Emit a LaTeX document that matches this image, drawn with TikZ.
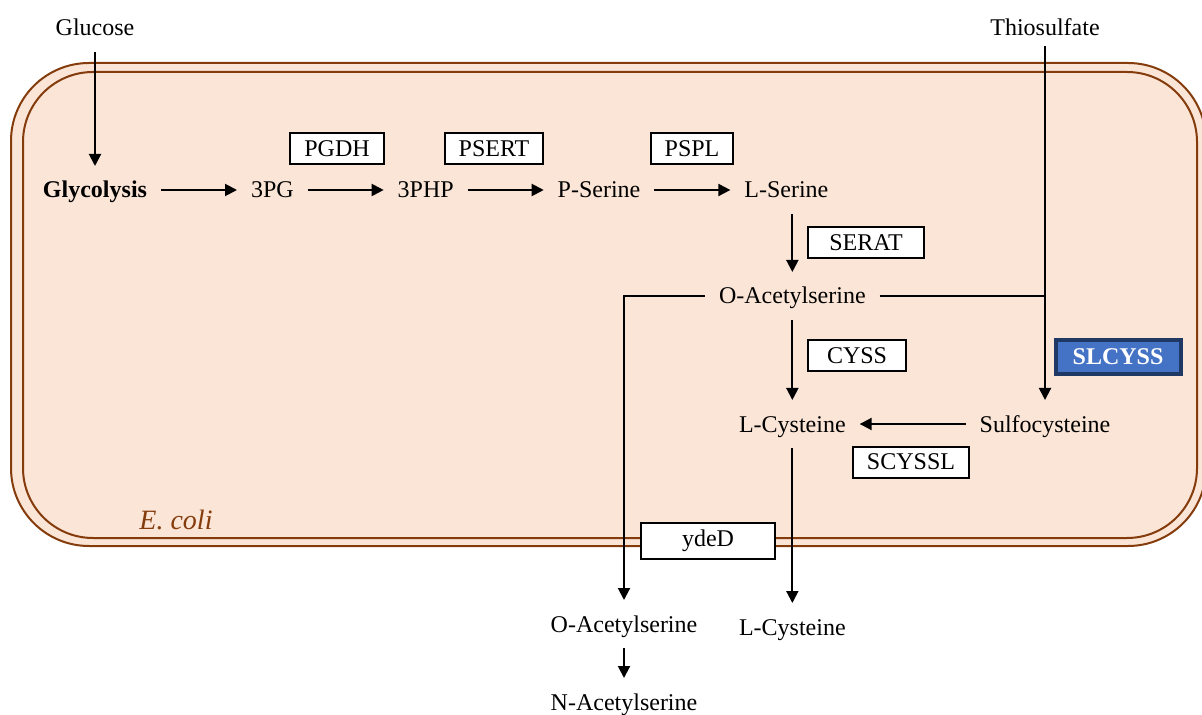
\documentclass[tikz,border=0pt]{standalone}
\usepackage{fontspec}
\setmainfont{Liberation Serif}
\usetikzlibrary{arrows.meta, positioning}
\definecolor{cellfill}{HTML}{FBE5D6}
\definecolor{cellline}{HTML}{843C0C}
\definecolor{hlfill}{HTML}{4472C4}
\definecolor{hlline}{HTML}{203864}

\begin{document}
\begin{tikzpicture}[
    x=0.5pt, y=-0.5pt,
    node distance=38pt,
    chem/.style={inner sep=2pt, outer sep=5pt, text height=9pt, text depth=1pt, font=\fontsize{12}{14}\selectfont},
    enzbox/.style={rectangle, draw, fill=white, line width=1pt, minimum height=15.5pt, inner xsep=7pt, font=\fontsize{12}{14}\selectfont},
    arrow/.style={line width=1pt, -{Triangle[length=6pt, width=6pt]}},
    link/.style={line width=1pt}
]
    \useasboundingbox (0,0) rectangle (1202,715);

    % cell envelope
    \draw [cellline, fill=cellfill, line width=1pt, rounded corners=39pt] (11,63) rectangle (1206,546);
    \draw [cellline, line width=1pt, rounded corners=35pt] (23,72) rectangle (1197,538);
    \node (ecoli) [font=\fontsize{14}{16}\selectfont\itshape, text=cellline] at (176,520) {E. coli};

    % metabolites
    \node (gly)  [chem, font=\fontsize{12}{14}\selectfont\bfseries] at (95,190) {Glycolysis};
    \node (pg)   [chem, right=of gly] {3PG};
    \node (php)  [chem, right=of pg] {3PHP};
    \node (pser) [chem, right=of php] {P-Serine};
    \node (lser) [chem, right=of pser] {L-Serine};
    \node (oas)  [chem, below=29pt of lser, xshift=3pt] {O-Acetylserine};
    \node (lcys) [chem, below=40pt of oas] {L-Cysteine};
    \node (lcysout) [chem, below=77.5pt of lcys] {L-Cysteine};
    \node (glc)  [chem, above=57pt of gly] {Glucose};
    \node (thio) [chem, outer sep=2pt] at (1045,28) {Thiosulfate};
    \node (sulfo) [chem] at (thio |- lcys) {Sulfocysteine};
    \node (oasout) [chem] at (624,624) {O-Acetylserine};
    \node (nacs) [chem, below=15pt of oasout] {N-Acetylserine};
    \coordinate (jn) at (thio |- oas);

    % reactions
    \draw [arrow] (glc) -- (gly);
    \draw [arrow] (gly) -- (pg);
    \draw [arrow] (pg) -- (php);
    \draw [arrow] (php) -- (pser);
    \draw [arrow] (pser) -- (lser);
    \draw [arrow] (lser.south -| oas) -- (oas);
    \draw [arrow] (oas) -- (lcys);
    \draw [arrow] (lcys) -- (lcysout);
    \draw [arrow] (thio) -- (sulfo);
    \draw [arrow] (sulfo) -- (lcys);
    \draw [link] (oas) -- (jn);
    \draw [arrow] (oas.west) -| (oasout);
    \draw [arrow] (oasout) -- (nacs);

    % enzymes
    \node (pgdh)   [enzbox] at (337,149) {PGDH};
    \node (psert)  [enzbox] at (494,149) {PSERT};
    \node (pspl)   [enzbox] at (692,149) {PSPL};
    \node (serat)  [enzbox, minimum width=58pt] at (866,243) {SERAT};
    \node (cyss)   [enzbox, minimum width=49pt] at (857,356) {CYSS};
    \node (scyssl) [enzbox] at (911,462) {SCYSSL};
    \node (yded)   [enzbox, minimum width=67pt] at (708,541) {ydeD};
    \node (slcyss) [enzbox, fill=hlfill, draw=hlline, line width=2pt, text=white, font=\fontsize{12}{14}\selectfont\bfseries, minimum width=62.5pt, minimum height=17pt] at (1118,357) {SLCYSS};
\end{tikzpicture}
\end{document}
